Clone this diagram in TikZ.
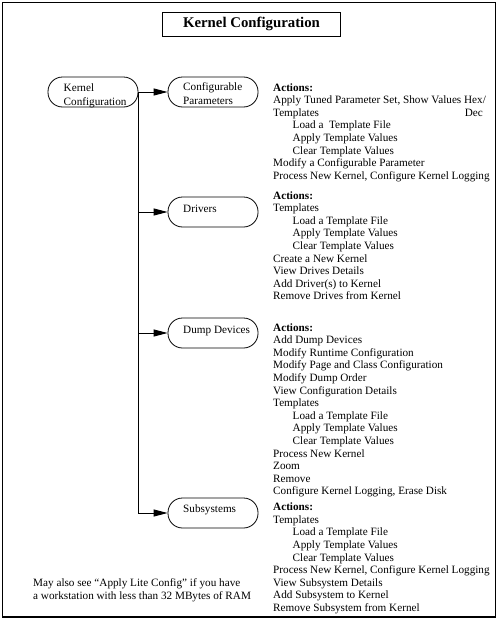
\documentclass[tikz,border=0pt]{standalone}
\usepackage{fontspec}
\setmainfont{Liberation Serif}
\usetikzlibrary{arrows.meta}
\begin{document}
\begin{tikzpicture}[x=1pt,y=-1pt,
  txt/.style={anchor=base west,inner sep=0pt,font=\fontsize{11.2}{12.6}\selectfont},
  box/.style={draw,line width=0.8pt,rounded corners=14.5pt,minimum height=30pt,
    minimum width=90pt,inner sep=0pt},
  arr/.style={line width=0.9pt,-{Triangle[length=14pt,width=7pt]}}]
\useasboundingbox (0,0) rectangle (500,621);
\draw[line width=1.5pt] (2.5,2.7) rectangle (495.5,617);
\node[draw,line width=0.8pt,minimum width=178.5pt,minimum height=23.7pt,
  font=\fontsize{14.8}{16}\selectfont\bfseries] (title) at (251.5,24.2) {Kernel Configuration};
% nodes
\node[box] (kc) at (93,92) {};
\node[box] (cp) at (213,92) {};
\node[box] (dr) at (213,212) {};
\node[box] (dd) at (213,333) {};
\node[box] (ss) at (213,513) {};
\node[txt] (kct1) at (63.5,91.7) {Kernel};
\node[txt] (kct2) at (63.5,105) {Configuration};
\node[txt] (cpt1) at (183,90.7) {Configurable};
\node[txt] (cpt2) at (183,104) {Parameters};
\node[txt] (drt) at (183,212.7) {Drivers};
\node[txt] (ddt) at (183,333.5) {Dump Devices};
\node[txt] (sst) at (183,512.3) {Subsystems};
% connectors
\draw[line width=0.9pt] (kc.east) -- (kc.east |- ss.west);
\draw[arr] (kc.east) -- (cp.west);
\draw[arr] (kc.east |- dr.west) -- (dr.west);
\draw[arr] (kc.east |- dd.west) -- (dd.west);
\draw[arr] (kc.east |- ss.west) -- (ss.west);
% block 1
\foreach \t [count=\i from 0] in {{\textbf{Actions:}},{Apply Tuned Parameter Set, Show Values Hex/},{Templates},
  {\hspace*{19.5pt}Load a\ \ Template File},{\hspace*{19.5pt}Apply Template Values},{\hspace*{19.5pt}Clear Template Values},
  {Modify a Configurable Parameter},{Process New Kernel, Configure Kernel Logging}}
  \node[txt] (a\i) at (273,91+12.6*\i) {\t};
\node[txt,anchor=base east] (dec) at (483,91+12.6*2) {Dec};
% block 2
\foreach \t [count=\i from 0] in {{\textbf{Actions:}},{Templates},
  {\hspace*{19.5pt}Load a Template File},{\hspace*{19.5pt}Apply Template Values},{\hspace*{19.5pt}Clear Template Values},
  {Create a New Kernel},{View Drives Details},{Add Driver(s) to Kernel},{Remove Drives from Kernel}}
  \node[txt] (b\i) at (273,199+12.6*\i) {\t};
% block 3
\foreach \t [count=\i from 0] in {{\textbf{Actions:}},{Add Dump Devices},{Modify Runtime Configuration},
  {Modify Page and Class Configuration},{Modify Dump Order},{View Configuration Details},{Templates},
  {\hspace*{19.5pt}Load a Template File},{\hspace*{19.5pt}Apply Template Values},{\hspace*{19.5pt}Clear Template Values},
  {Process New Kernel},{Zoom},{Remove},{Configure Kernel Logging, Erase Disk}}
  \node[txt] (c\i) at (273,331+12.6*\i) {\t};
% block 4
\foreach \t [count=\i from 0] in {{\textbf{Actions:}},{Templates},
  {\hspace*{19.5pt}Load a Template File},{\hspace*{19.5pt}Apply Template Values},{\hspace*{19.5pt}Clear Template Values},
  {Process New Kernel, Configure Kernel Logging},{View Subsystem Details},{Add Subsystem to Kernel},{Remove Subsystem from Kernel}}
  \node[txt] (d\i) at (273,510.7+12.6*\i) {\t};
% note
\node[txt] (n1) at (33,586.5) {May also see “Apply Lite Config” if you have};
\node[txt] (n2) at (33,599) {a workstation with less than 32 MBytes of RAM};
\end{tikzpicture}
\end{document}
